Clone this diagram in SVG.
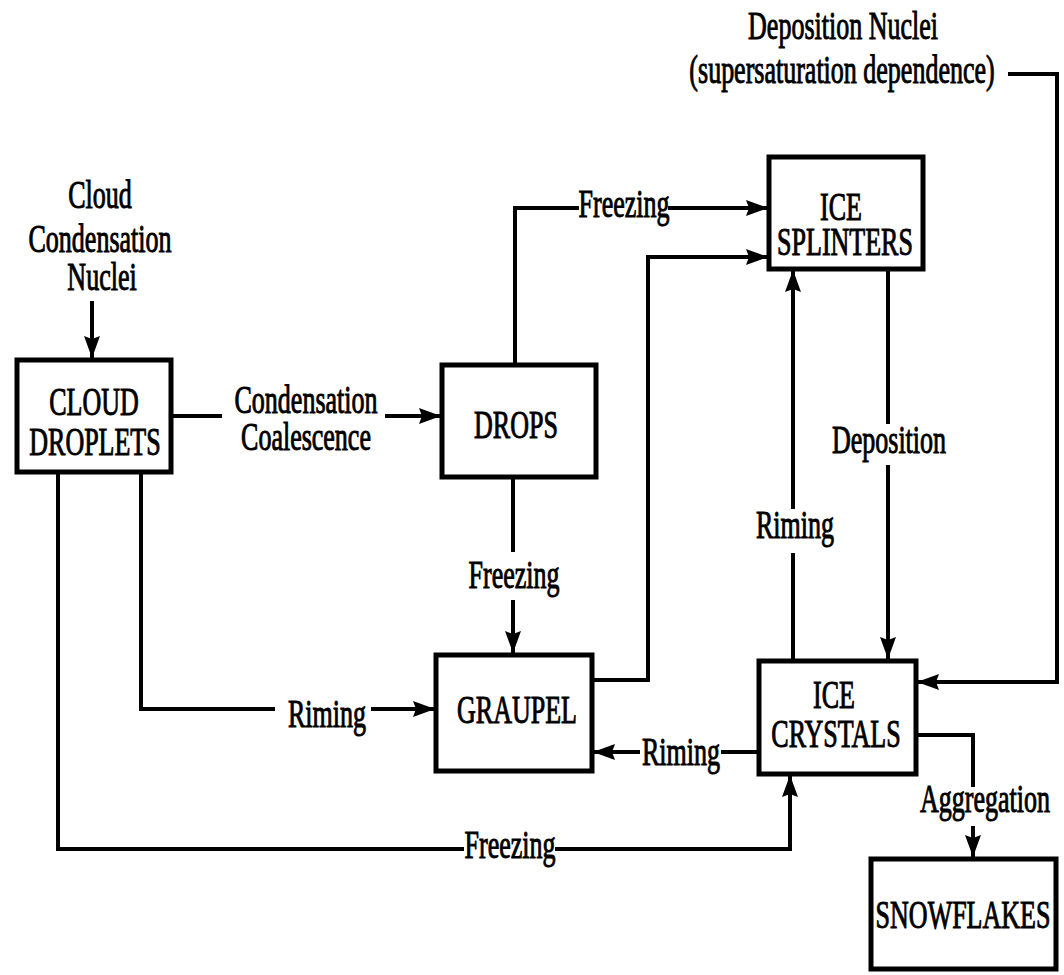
<svg xmlns="http://www.w3.org/2000/svg" width="1064" height="975" viewBox="0 0 1064 975">
<style>
.box{fill:#fff;stroke:#000;stroke-width:5}
.ln{fill:none;stroke:#000;stroke-width:4;stroke-linejoin:miter;stroke-linecap:square}
text{font-family:"Liberation Serif","Times New Roman","DejaVu Serif",serif;font-size:39px;text-anchor:middle;fill:#000;stroke:#000;stroke-width:1}
</style>
<defs>
<marker id="ah" markerUnits="userSpaceOnUse" markerWidth="24" markerHeight="18" refX="22" refY="8" orient="auto">
<path d="M0,0 L22,8 L0,16 L3,8 z" fill="#000"/>
</marker>
</defs>
<rect width="1064" height="975" fill="#fff"/>

<g id="connectors">
<path class="ln" d="M92,303 L92,358" marker-end="url(#ah)"/>
<path class="ln" d="M172,416 L220,416"/>
<path class="ln" d="M387,416 L441,416" marker-end="url(#ah)"/>
<path class="ln" d="M515,363 L515,208 L577,208"/>
<path class="ln" d="M670,208 L768,208" marker-end="url(#ah)"/>
<path class="ln" d="M593,680 L648,680 L648,257 L768,257" marker-end="url(#ah)"/>
<path class="ln" d="M888,270 L888,422"/>
<path class="ln" d="M888,467 L888,659" marker-end="url(#ah)"/>
<path class="ln" d="M793,659 L793,555"/>
<path class="ln" d="M793,507 L793,270" marker-end="url(#ah)"/>
<path class="ln" d="M1010,74 L1057,74 L1057,682 L917,682" marker-end="url(#ah)"/>
<path class="ln" d="M917,735 L973,735 L973,785"/>
<path class="ln" d="M973,828 L973,857" marker-end="url(#ah)"/>
<path class="ln" d="M758,752 L723,752"/>
<path class="ln" d="M638,752 L593,752" marker-end="url(#ah)"/>
<path class="ln" d="M513,478 L513,550"/>
<path class="ln" d="M513,602 L513,653" marker-end="url(#ah)"/>
<path class="ln" d="M141,473 L141,709 L273,709"/>
<path class="ln" d="M373,709 L435,709" marker-end="url(#ah)"/>
<path class="ln" d="M58,473 L58,849 L462,849"/>
<path class="ln" d="M557,849 L790,849 L790,775" marker-end="url(#ah)"/>
</g>

<g id="labels">
<text transform="translate(100 208) scale(0.667 1)">Cloud</text>
<text transform="translate(100 252) scale(0.667 1)">Condensation</text>
<text transform="translate(102 290) scale(0.667 1)">Nuclei</text>
<text transform="translate(306 413) scale(0.667 1)">Condensation</text>
<text transform="translate(306 450) scale(0.667 1)">Coalescence</text>
<text transform="translate(624 217) scale(0.667 1)">Freezing</text>
<text transform="translate(843 39) scale(0.667 1)">Deposition Nuclei</text>
<text transform="translate(842 83) scale(0.667 1)">(supersaturation dependence)</text>
<text transform="translate(889 453) scale(0.667 1)">Deposition</text>
<text transform="translate(795 538) scale(0.667 1)">Riming</text>
<text transform="translate(514 588) scale(0.667 1)">Freezing</text>
<text transform="translate(327 727) scale(0.667 1)">Riming</text>
<text transform="translate(681 765) scale(0.667 1)">Riming</text>
<text transform="translate(985 812) scale(0.667 1)">Aggregation</text>
<text transform="translate(510 858) scale(0.667 1)">Freezing</text>
</g>

<g id="cloud-droplets">
<rect class="box" x="17" y="360" width="154" height="112"/>
<text transform="translate(94 415) scale(0.667 1)">CLOUD</text>
<text transform="translate(95 455) scale(0.667 1)">DROPLETS</text>
</g>
<g id="drops">
<rect class="box" x="442" y="365" width="154" height="112"/>
<text transform="translate(516 438) scale(0.667 1)">DROPS</text>
</g>
<g id="ice-splinters">
<rect class="box" x="769" y="157" width="154" height="112"/>
<text transform="translate(841 220) scale(0.667 1)">ICE</text>
<text transform="translate(845 255) scale(0.667 1)">SPLINTERS</text>
</g>
<g id="graupel">
<rect class="box" x="436" y="655" width="156" height="116"/>
<text transform="translate(517 723) scale(0.667 1)">GRAUPEL</text>
</g>
<g id="ice-crystals">
<rect class="box" x="759" y="661" width="157" height="113"/>
<text transform="translate(834 708) scale(0.667 1)">ICE</text>
<text transform="translate(836 747) scale(0.667 1)">CRYSTALS</text>
</g>
<g id="snowflakes">
<rect class="box" x="871" y="859" width="185" height="110"/>
<text transform="translate(963 928) scale(0.667 1)">SNOWFLAKES</text>
</g>
</svg>
